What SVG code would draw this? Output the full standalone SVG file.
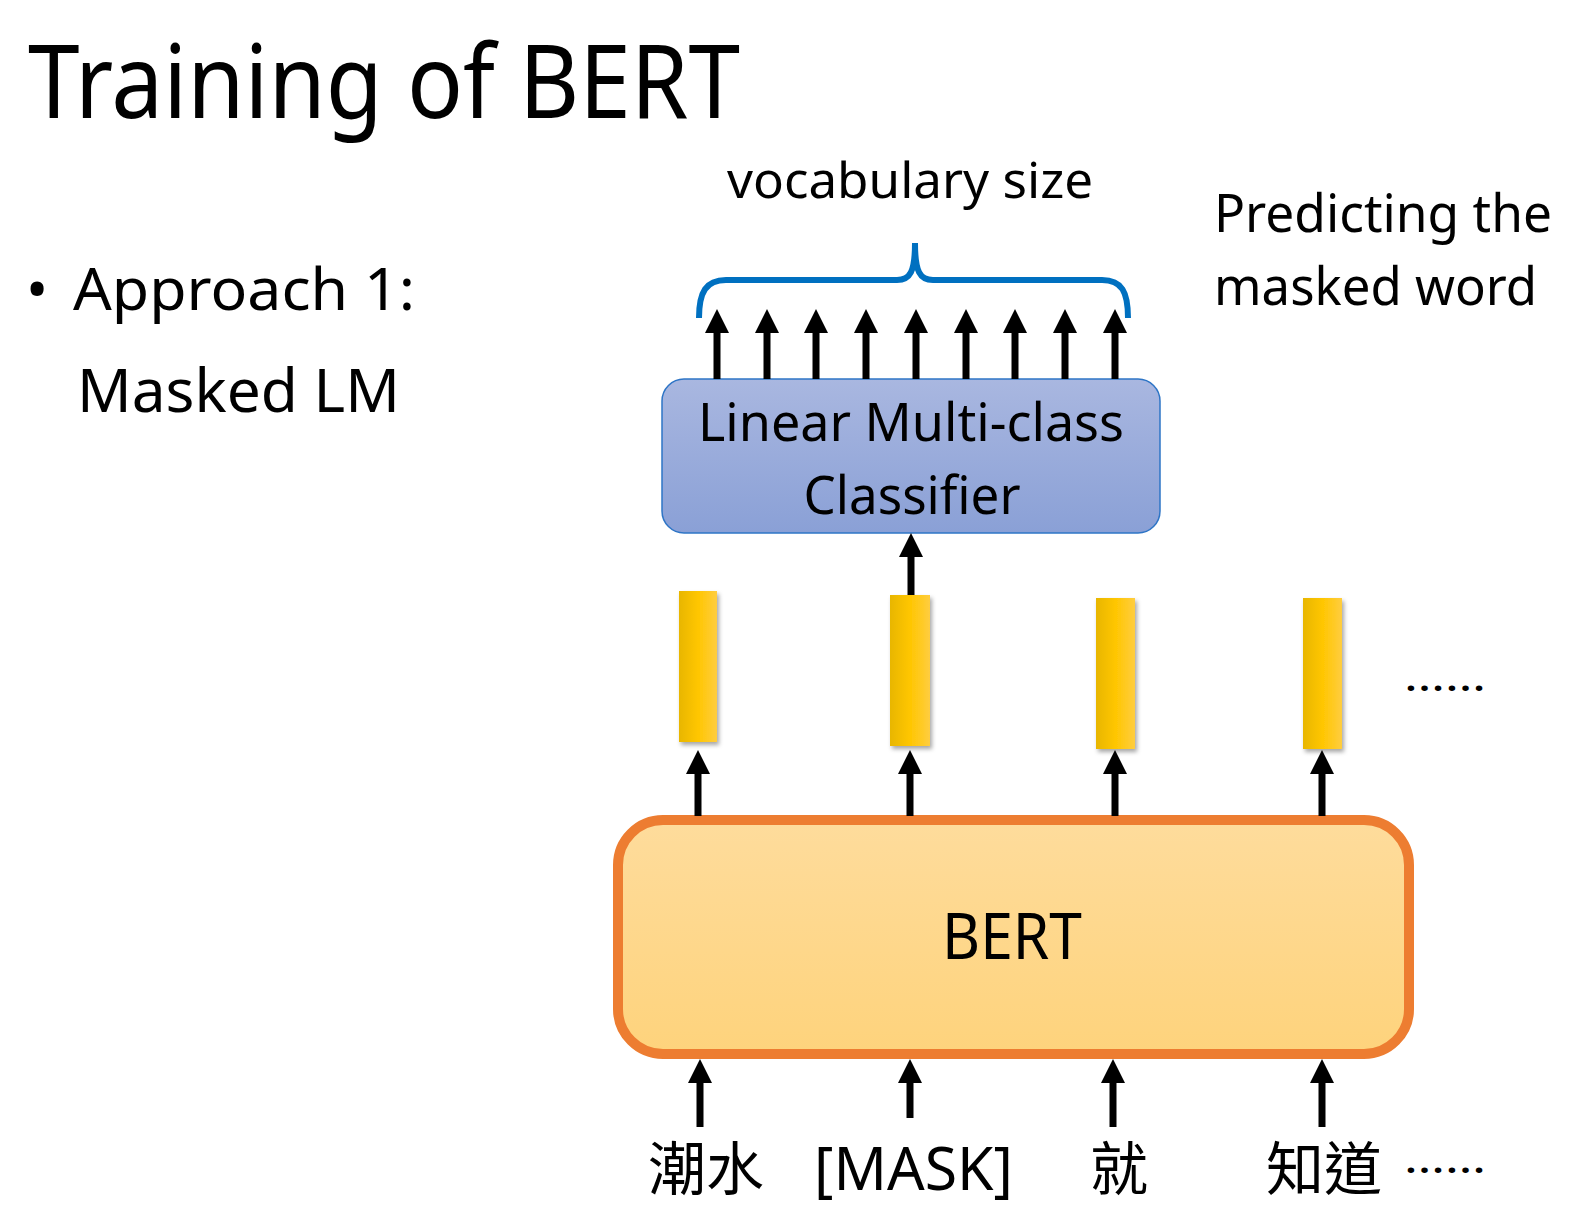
<svg xmlns="http://www.w3.org/2000/svg" width="1575" height="1205" viewBox="0 0 1575 1205">
<style>
  .t { font-family: "Noto Sans", "Liberation Sans", sans-serif; fill: #000; }
  .cjk { font-family: "Noto Sans CJK TC", "Noto Sans CJK SC", sans-serif; fill: #000; }
  .arr { stroke: #000; stroke-width: 7; fill: none; marker-end: url(#ah); }
  .bar { fill: url(#barGrad); filter: url(#shadow); }
</style>
<defs>
  <marker id="ah" markerUnits="userSpaceOnUse" markerWidth="24" markerHeight="24" viewBox="0 0 24 24" refX="0" refY="12" orient="auto">
    <path d="M0,0 L24,12 L0,24 z" fill="#000"/>
  </marker>
  <linearGradient id="barGrad" x1="0" y1="0" x2="1" y2="0">
    <stop offset="0" stop-color="#E8B600"/>
    <stop offset="0.5" stop-color="#FFC600"/>
    <stop offset="1" stop-color="#FFCD40"/>
  </linearGradient>
  <linearGradient id="clsGrad" x1="0" y1="0" x2="0" y2="1">
    <stop offset="0" stop-color="#A9B7E0"/>
    <stop offset="1" stop-color="#8AA0D6"/>
  </linearGradient>
  <linearGradient id="bertGrad" x1="0" y1="0" x2="0" y2="1">
    <stop offset="0" stop-color="#FEDC9C"/>
    <stop offset="1" stop-color="#FED37C"/>
  </linearGradient>
  <filter id="shadow" x="-30%" y="-10%" width="170%" height="125%">
    <feDropShadow dx="2" dy="3" stdDeviation="2" flood-color="#000" flood-opacity="0.35"/>
  </filter>
</defs>

<g id="title">
  <text class="t" x="28" y="118" font-size="102" textLength="712" lengthAdjust="spacingAndGlyphs">Training of BERT</text>
</g>

<g id="bullet">
  <text class="t" x="26" y="310" font-size="59">•</text>
  <text class="t" x="73" y="310" font-size="59" textLength="342" lengthAdjust="spacingAndGlyphs">Approach 1:</text>
  <text class="t" x="77" y="412" font-size="60" textLength="323" lengthAdjust="spacingAndGlyphs">Masked LM</text>
</g>

<g id="vocab-label">
  <text class="t" x="727" y="198" font-size="50" textLength="366" lengthAdjust="spacingAndGlyphs">vocabulary size</text>
  <path d="M699,318 C699,292 706,280 726,280 L897,280 C910,280 915,272 915,243 C915,272 920,280 933,280 L1102,280 C1122,280 1128,292 1128,318" fill="none" stroke="#0070C0" stroke-width="6"/>
</g>

<g id="predict-label">
  <text class="t" x="1214" y="232" font-size="52" textLength="338" lengthAdjust="spacingAndGlyphs">Predicting the</text>
  <text class="t" x="1214" y="305" font-size="52" textLength="323" lengthAdjust="spacingAndGlyphs">masked word</text>
</g>

<g id="classifier">
  <rect x="662" y="379" width="498" height="154" rx="22" fill="url(#clsGrad)" stroke="#2E75C6" stroke-width="1.5"/>
  <text class="t" x="911" y="441" font-size="52" text-anchor="middle" textLength="426" lengthAdjust="spacingAndGlyphs">Linear Multi-class</text>
  <text class="t" x="912" y="514" font-size="52" text-anchor="middle" textLength="217" lengthAdjust="spacingAndGlyphs">Classifier</text>
</g>

<g id="vectors">
  <rect class="bar" x="679" y="591" width="38" height="151"/>
  <rect class="bar" x="890" y="595" width="40" height="151"/>
  <rect class="bar" x="1096" y="598" width="39" height="151"/>
  <rect class="bar" x="1303" y="598" width="39" height="151"/>
  <text class="t" x="1404" y="691" font-size="40" textLength="82" lengthAdjust="spacingAndGlyphs">……</text>
</g>

<g id="bert">
  <rect x="618" y="820" width="791" height="234" rx="45" fill="url(#bertGrad)" stroke="#ED7D31" stroke-width="10"/>
  <text class="t" x="1012" y="959" font-size="63" text-anchor="middle" textLength="140" lengthAdjust="spacingAndGlyphs">BERT</text>
</g>

<g id="tokens">
  <text class="cjk" x="648" y="1190" font-size="58">潮水</text>
  <text class="t" x="814" y="1190" font-size="60" textLength="199" lengthAdjust="spacingAndGlyphs">[MASK]</text>
  <text class="cjk" x="1090" y="1190" font-size="58">就</text>
  <text class="cjk" x="1266" y="1190" font-size="58">知道</text>
  <text class="t" x="1404" y="1173" font-size="40" textLength="82" lengthAdjust="spacingAndGlyphs">……</text>
</g>

<g id="connectors">
  <line class="arr" x1="717" y1="379" x2="717" y2="333"/>
  <line class="arr" x1="767" y1="379" x2="767" y2="333"/>
  <line class="arr" x1="816" y1="379" x2="816" y2="333"/>
  <line class="arr" x1="866" y1="379" x2="866" y2="333"/>
  <line class="arr" x1="916" y1="379" x2="916" y2="333"/>
  <line class="arr" x1="966" y1="379" x2="966" y2="333"/>
  <line class="arr" x1="1015" y1="379" x2="1015" y2="333"/>
  <line class="arr" x1="1065" y1="379" x2="1065" y2="333"/>
  <line class="arr" x1="1115" y1="379" x2="1115" y2="333"/>

  <line class="arr" x1="911" y1="595" x2="911" y2="557"/>

  <line class="arr" x1="698" y1="816" x2="698" y2="774"/>
  <line class="arr" x1="910" y1="816" x2="910" y2="774"/>
  <line class="arr" x1="1115" y1="816" x2="1115" y2="774"/>
  <line class="arr" x1="1322" y1="816" x2="1322" y2="774"/>

  <line class="arr" x1="700" y1="1127" x2="700" y2="1083"/>
  <line class="arr" x1="910" y1="1118" x2="910" y2="1083"/>
  <line class="arr" x1="1113" y1="1127" x2="1113" y2="1083"/>
  <line class="arr" x1="1322" y1="1127" x2="1322" y2="1083"/>
</g>
</svg>
